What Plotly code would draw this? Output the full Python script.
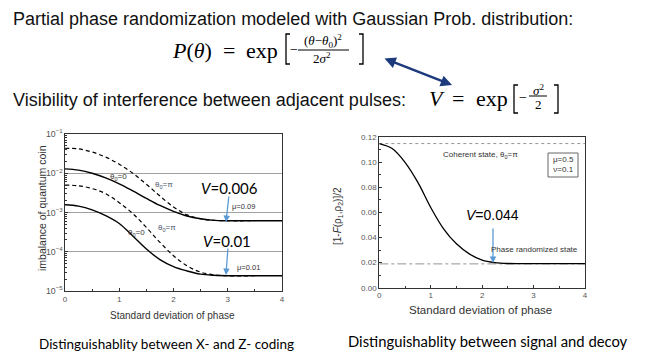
import plotly.graph_objects as go

W, H = 650, 364
def PX(x): return x / W
def PY(y): return 1 - y / H

# ---------------- data ----------------
# Left chart: imbalance of quantum coin vs. standard deviation of phase
sigma_left = [0, 0.25, 0.5, 0.75, 1.0, 1.25, 1.5, 1.75, 2.0, 2.25, 2.5, 2.75, 3.0, 3.5, 4.0]
mu009_theta0 = [1.29e-2, 1.20e-2, 1.00e-2, 7.59e-3, 5.37e-3, 3.55e-3, 2.29e-3, 1.51e-3,
                1.07e-3, 8.13e-4, 6.92e-4, 6.31e-4, 6.17e-4, 6.17e-4, 6.17e-4]
sigma_left_dash = [0, 0.25, 0.5, 0.75, 1.0, 1.25, 1.5, 1.75, 2.0, 2.25, 2.5, 2.75, 3.0, 3.5]
mu009_thetapi = [4.33e-2, 4.17e-2, 3.47e-2, 2.57e-2, 1.70e-2, 1.00e-2, 5.25e-3, 2.63e-3,
                 1.38e-3, 8.71e-4, 6.92e-4, 6.31e-4, 6.17e-4, 6.17e-4]
mu001_theta0 = [1.57e-3, 1.45e-3, 1.17e-3, 8.32e-4, 5.25e-4, 2.51e-4, 1.17e-4, 6.31e-5,
                4.17e-5, 3.24e-5, 2.69e-5, 2.51e-5, 2.45e-5, 2.45e-5, 2.45e-5]
mu001_thetapi = [5.01e-3, 4.79e-3, 4.07e-3, 3.02e-3, 1.78e-3, 9.33e-4, 4.17e-4, 1.74e-4,
                 7.94e-5, 4.37e-5, 3.02e-5, 2.57e-5, 2.45e-5, 2.45e-5]

# Right chart: [1-F(rho1,rho2)]/2 vs. standard deviation of phase
sigma_right = [0, 0.25, 0.5, 0.75, 1.0, 1.25, 1.5, 1.75, 2.0, 2.25, 2.5, 3.0, 3.5, 4.0]
fidelity_gap = [0.115, 0.111, 0.100, 0.084, 0.064, 0.047, 0.035, 0.027, 0.022, 0.0200,
                0.0193, 0.0192, 0.0192, 0.0192]
coherent_level = 0.115
randomized_level = 0.019
ref_x = [0, 4]

fig = go.Figure()

# left chart traces
fig.add_trace(go.Scatter(x=sigma_left, y=mu009_theta0, mode="lines", line=dict(color="black", width=1.4, shape="spline"), xaxis="x", yaxis="y"))
fig.add_trace(go.Scatter(x=sigma_left_dash, y=mu009_thetapi, mode="lines", line=dict(color="black", width=1.2, dash="4px,3px", shape="spline"), xaxis="x", yaxis="y"))
fig.add_trace(go.Scatter(x=sigma_left, y=mu001_theta0, mode="lines", line=dict(color="black", width=1.4, shape="spline"), xaxis="x", yaxis="y"))
fig.add_trace(go.Scatter(x=sigma_left_dash, y=mu001_thetapi, mode="lines", line=dict(color="black", width=1.2, dash="4px,3px", shape="spline"), xaxis="x", yaxis="y"))

# right chart traces
fig.add_trace(go.Scatter(x=ref_x, y=[coherent_level, coherent_level], mode="lines", line=dict(color="#777", width=0.8, dash="dot"), xaxis="x2", yaxis="y2"))
fig.add_trace(go.Scatter(x=ref_x, y=[randomized_level, randomized_level], mode="lines", line=dict(color="#777", width=0.8, dash="dashdot"), xaxis="x2", yaxis="y2"))
fig.add_trace(go.Scatter(x=sigma_right, y=fidelity_gap, mode="lines", line=dict(color="black", width=1.3, shape="spline"), xaxis="x2", yaxis="y2"))

tickfont = dict(family="Liberation Sans, Arial", size=8, color="#555")
axis_common = dict(showline=True, linecolor="#333", linewidth=1, mirror=True, ticks="inside",
                   ticklen=3, tickcolor="#333", zeroline=False, automargin=False)

fig.update_layout(
    width=W, height=H, autosize=False,
    margin=dict(l=0, r=0, t=0, b=0, pad=0),
    paper_bgcolor="white", plot_bgcolor="white",
    showlegend=False,
    xaxis=dict(domain=[PX(65), PX(282)], anchor="y", range=[0, 4], dtick=1, showgrid=False,
               tickfont=tickfont,
               minor=dict(ticks="inside", ticklen=2, dtick=0.5, tickcolor="#333"), **axis_common),
    yaxis=dict(domain=[PY(291), PY(134)], anchor="x", type="log", range=[-5, -1], dtick=1,
               exponentformat="power", showgrid=True, gridcolor="#a0a0a0", gridwidth=1,
               tickfont=dict(family="Liberation Sans, Arial", size=7, color="#555"),
               minor=dict(ticks="inside", ticklen=2, dtick="D1", tickcolor="#333", showgrid=False),
               **axis_common),
    xaxis2=dict(domain=[PX(379.3), PX(585)], anchor="y2", range=[0, 4], dtick=1, showgrid=False,
                tickfont=tickfont,
                minor=dict(ticks="inside", ticklen=2, dtick=0.5, tickcolor="#333"), **axis_common),
    yaxis2=dict(domain=[PY(287.7), PY(137.3)], anchor="x2", range=[0, 0.12], dtick=0.02,
                tickformat=".2f", showgrid=False, tickfont=tickfont,
                minor=dict(ticks="inside", ticklen=2, dtick=0.01, tickcolor="#333"), **axis_common),
)

ann = []
def txt(x, y, text, size, family="Liberation Sans, Arial", color="#111", xanchor="center", angle=0):
    ann.append(dict(x=PX(x), y=PY(y), xref="paper", yref="paper", text=text, showarrow=False,
                    xanchor=xanchor, yanchor="middle", textangle=angle,
                    font=dict(family=family, size=size, color=color)))

SERIF = "Liberation Serif, Times New Roman"
# slide headings
txt(11, 19, "Partial phase randomization modeled with Gaussian Prob. distribution:", 18, xanchor="left")
txt(11, 100, "Visibility of interference between adjacent pulses:", 18, xanchor="left")

# formula 1
txt(192, 51, "<i>P</i>(<i>θ</i>)", 22, SERIF, "black")
txt(229, 51, "=", 22, SERIF, "black")
txt(262, 51, "exp", 22, SERIF, "black")
txt(294, 50, "−", 14, SERIF, "black")
txt(323, 41, "(<i>θ</i>−<i>θ</i><sub>0</sub>)<sup>2</sup>", 13, SERIF, "black")
txt(322, 58, "2<i>σ</i><sup>2</sup>", 13, SERIF, "black")
# formula 2
txt(437, 99, "<i>V</i>", 22, SERIF, "black")
txt(458, 99, "=", 22, SERIF, "black")
txt(492, 99, "exp", 22, SERIF, "black")
txt(523, 98, "−", 14, SERIF, "black")
txt(538, 90, "<i>σ</i><sup>2</sup>", 13, SERIF, "black")
txt(538, 105, "2", 13, SERIF, "black")

shapes = []
def bracket(xv, xs, yt, yb):
    path = f"M {PX(xs)},{PY(yt)} L {PX(xv)},{PY(yt)} L {PX(xv)},{PY(yb)} L {PX(xs)},{PY(yb)}"
    shapes.append(dict(type="path", xref="paper", yref="paper", path=path,
                       line=dict(color="black", width=1.3)))
def hline(x0, x1, y, color="black", width=1):
    shapes.append(dict(type="line", xref="paper", yref="paper", x0=PX(x0), x1=PX(x1), y0=PY(y), y1=PY(y),
                       line=dict(color=color, width=width)))
bracket(286, 290, 34, 64)
bracket(363, 359, 34, 64)
hline(298, 349, 50)
bracket(514, 518, 85, 113)
bracket(558, 554, 85, 113)
hline(529, 547, 96)

# navy double arrow
ann.append(dict(x=PX(452), y=PY(85), xref="paper", yref="paper", text="", showarrow=True,
                ax=-69, ay=-27, arrowhead=2, arrowside="end+start", arrowsize=0.9,
                arrowwidth=2.5, arrowcolor="#1c3a7c", standoff=0, startstandoff=0))

# left chart labels
txt(118, 177, "θ<sub>0</sub>=0", 8, color="#333")
txt(164, 185, "θ<sub>0</sub>=π", 8, color="#4a5670")
txt(243, 206, "μ=0.09", 7.5, color="#333")
txt(136, 233, "θ<sub>0</sub>=0", 8, color="#333")
txt(167, 228, "θ<sub>0</sub>=π", 8, color="#4a5670")
txt(248, 267, "μ=0.01", 7.5, color="#333")
txt(229, 188, "<i>V</i>=0.006", 15, "Lato, Carlito, sans-serif", "black")
txt(227, 241, "<i>V</i>=0.01", 15, "Lato, Carlito, sans-serif", "black")
txt(42, 208, "imbalance of quantum coin", 10.5, color="#333", angle=-90)
txt(172, 315, "Standard deviation of phase", 10, color="#333")

blue = "#5b9bd5"
for hx, hy, ax, ay in [(226, 222, 3, -27), (226, 275, 2, -28), (493, 263, 0, -36)]:
    ann.append(dict(x=PX(hx), y=PY(hy), xref="paper", yref="paper", text="", showarrow=True,
                    ax=ax, ay=ay, arrowhead=2, arrowsize=1, arrowwidth=1.3, arrowcolor=blue, standoff=0))

# right chart labels
txt(480, 155, "Coherent state, θ<sub>0</sub>=π", 8, color="#333")
shapes.append(dict(type="rect", xref="paper", yref="paper", x0=PX(548), x1=PX(578), y0=PY(177), y1=PY(153),
                   line=dict(color="#666", width=1)))
txt(563, 165, "μ=0.5<br>ν=0.1", 8, color="#333")
txt(493, 215, "<i>V</i>=0.044", 14, color="black")
txt(534, 249, "Phase randomized state", 8, color="#333")
txt(338, 216, "[1-<i>F</i>(ρ<sub>1</sub>,ρ<sub>2</sub>)]/2", 10, color="#333", angle=-90)
txt(480, 310, "Standard deviation of phase", 11.5, color="#333")

# captions
txt(166, 344, "Distinguishablity between X- and Z- coding", 13.5, "Lato, Carlito, sans-serif", "black")
txt(488, 341, "Distinguishablity between signal and decoy", 14.8, "Lato, Carlito, sans-serif", "black")

fig.update_layout(annotations=ann, shapes=shapes)
fig.write_html("out.html", config={"displayModeBar": False},
               post_script="document.body.style.margin='0';")
